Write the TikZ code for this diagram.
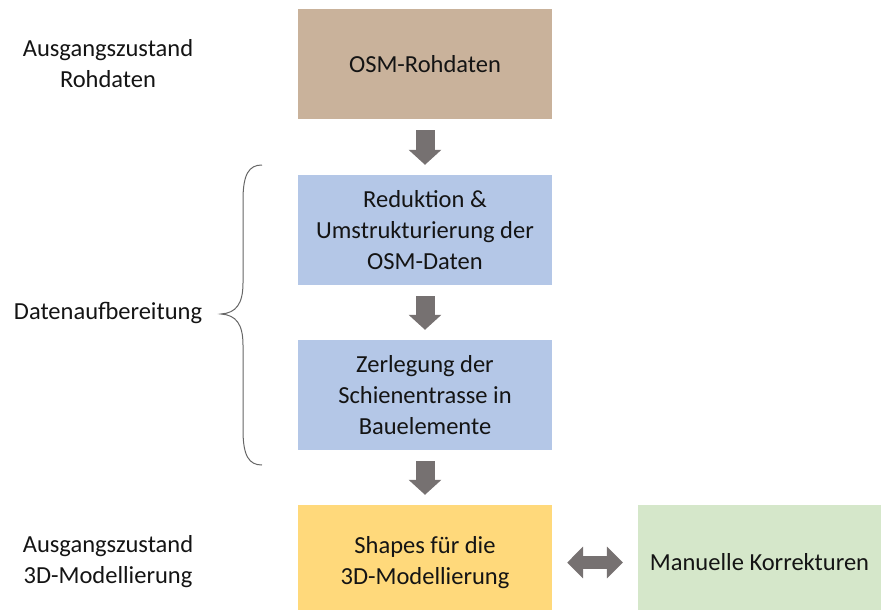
\documentclass[tikz,border=0pt]{standalone}
\usepackage{fontspec}
\setmainfont{Carlito}
\usetikzlibrary{arrows.meta}
\definecolor{rawtan}{HTML}{C9B29B}
\definecolor{prepblue}{HTML}{B4C7E7}
\definecolor{shapeyellow}{HTML}{FFD97B}
\definecolor{fixgreen}{HTML}{D5E7CA}
\definecolor{arrowgray}{HTML}{767171}
\tikzset{
  stage/.style={minimum width=254pt, minimum height=110pt, inner sep=0pt, align=center, text=black!92},
  sidelabel/.style={align=center, text=black!92},
  blockarrow/.style={draw=arrowgray, line width=19pt, -{Triangle[width=32pt,length=15pt]}, shorten <=11pt, shorten >=10pt},
  twinarrow/.style={draw=arrowgray, line width=13pt, {Triangle[width=31pt,length=16pt]}-{Triangle[width=31pt,length=16pt]}, shorten <=15pt, shorten >=15pt}
}
\begin{document}
\begin{tikzpicture}[x=1pt, y=-1pt, font=\fontsize{24.5}{31}\selectfont]
			%%%%% START %%%%%
			\useasboundingbox (0,0) rectangle (881,610);
			
			\node[stage, fill=rawtan] (raw) at (425,64) {OSM-Rohdaten};
			\node[stage, fill=prepblue] (reduce) at (425,230) {Reduktion \&\\Umstrukturierung der\\OSM-Daten};
			\node[stage, fill=prepblue] (split) at (425,395) {Zerlegung der\\Schienentrasse in\\Bauelemente};
			\node[stage, fill=shapeyellow, minimum height=115pt] (shapes) at (425,562.5) {Shapes f\"ur die\\3D-Modellierung};
			\node[stage, fill=fixgreen, minimum width=243pt, minimum height=115pt] (manual) at (759.5,562.5) {Manuelle Korrekturen};
			
			\draw[blockarrow] (raw) -- (reduce);
			\draw[blockarrow] (reduce) -- (split);
			\draw[blockarrow] (split) -- (shapes);
			\draw[twinarrow] (shapes) -- (manual);
			
			\node[sidelabel] (lblraw) at (108,64) {Ausgangszustand\\Rohdaten};
			\node[sidelabel] (lblprep) at (108,313) {Datenaufbereitung};
			\node[sidelabel] (lbl3d) at (108,562) {Ausgangszustand\\3D-Modellierung};
			
			% brace
			\draw[black!60, line width=1pt] (262,165) .. controls (249,165) and (243,174) .. (243,200) -- (243,283)
				.. controls (243,304) and (236,313) .. (221,314)
				.. controls (236,315) and (243,324) .. (243,345) -- (243,430)
				.. controls (243,456) and (249,465) .. (262,465);
			%%%%% END %%%%%
\end{tikzpicture}
\end{document}
